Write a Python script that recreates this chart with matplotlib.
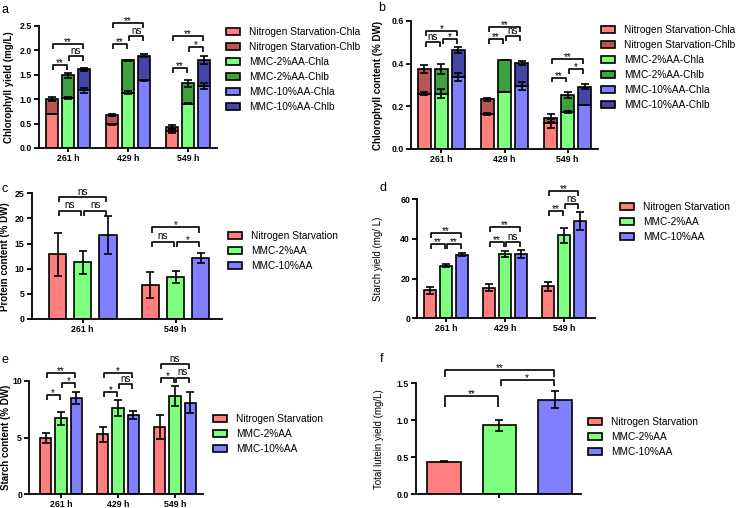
import matplotlib
matplotlib.use('Agg')
import matplotlib.pyplot as plt

plt.rcParams['font.family'] = ['Liberation Sans', 'DejaVu Sans']

# colours
c_ns_a, c_ns_b = '#FF7F7F', '#B85555'
c_m2_a, c_m2_b = '#7FFF7F', '#3FA040'
c_m10_a, c_m10_b = '#7F7FFF', '#4545A5'

times3 = ['261 h', '429 h', '549 h']
times2 = ['261 h', '549 h']
groups = ['Nitrogen Starvation', 'MMC-2%AA', 'MMC-10%AA']

# a: chlorophyll yield (mg/L), Chla and Chlb stacked
a_chla = [[0.70, 0.49, 0.35], [1.03, 1.13, 0.90], [1.18, 1.38, 1.27]]
a_chla_err = [[0.005, 0.01, 0.04], [0.02, 0.03, 0.01], [0.05, 0.02, 0.06]]
a_chlb = [[0.30, 0.19, 0.08], [0.46, 0.66, 0.42], [0.43, 0.51, 0.53]]
a_chlb_err = [[0.04, 0.02, 0.05], [0.05, 0.01, 0.07], [0.03, 0.04, 0.09]]

# b: chlorophyll content (% DW)
b_chla = [[0.26, 0.165, 0.12], [0.26, 0.265, 0.172], [0.338, 0.295, 0.208]]
b_chla_err = [[0.005, 0.005, 0.02], [0.02, 0.0, 0.004], [0.02, 0.02, 0.0]]
b_chlb = [[0.115, 0.068, 0.025], [0.115, 0.15, 0.081], [0.127, 0.108, 0.084]]
b_chlb_err = [[0.018, 0.008, 0.018], [0.022, 0.0, 0.012], [0.013, 0.011, 0.012]]

# c: protein content (% DW)
c_vals = [[12.9, 6.8], [11.3, 8.4], [16.7, 12.2]]
c_err = [[4.3, 2.6], [2.3, 1.2], [3.7, 1.0]]

# d: starch yield (mg/L)
d_vals = [[14.2, 15.5, 16.2], [26.5, 32.3, 41.8], [32.0, 32.5, 49.2]]
d_err = [[1.8, 1.8, 2.2], [0.7, 1.5, 3.8], [0.8, 2.0, 4.5]]

# e: starch content (% DW)
e_vals = [[5.0, 5.3, 5.95], [6.7, 7.6, 8.65], [8.5, 7.0, 8.1]]
e_err = [[0.45, 0.65, 1.05], [0.55, 0.7, 0.9], [0.55, 0.35, 0.9]]

# f: total lutein yield (mg/L)
f_vals = [0.44, 0.93, 1.28]
f_err = [0.005, 0.08, 0.11]

# significance brackets: (time index, bar i, bar j, height, label)
a_sig = [(0, 0, 1, 1.70, '**'), (0, 1, 2, 1.88, 'ns'), (0, 0, 2, 2.12, '**'),
         (1, 0, 1, 2.12, '**'), (1, 1, 2, 2.29, 'ns'), (1, 0, 2, 2.56, '**'),
         (2, 0, 1, 1.64, '**'), (2, 1, 2, 2.07, '*'), (2, 0, 2, 2.29, '**')]
b_sig = [(0, 0, 1, 0.50, 'ns'), (0, 1, 2, 0.515, '*'), (0, 0, 2, 0.554, '*'),
         (1, 0, 1, 0.515, '**'), (1, 1, 2, 0.53, 'ns'), (1, 0, 2, 0.57, '**'),
         (2, 0, 1, 0.335, '**'), (2, 1, 2, 0.374, '*'), (2, 0, 2, 0.42, '**')]
c_sig = [(0, 0, 1, 21.5, 'ns'), (0, 1, 2, 21.5, 'ns'), (0, 0, 2, 24.2, 'ns'),
         (1, 0, 1, 15.4, 'ns'), (1, 1, 2, 15.4, '*'), (1, 0, 2, 18.2, '*')]
d_sig = [(0, 0, 1, 37.3, '**'), (0, 1, 2, 37.3, '**'), (0, 0, 2, 42.9, '**'),
         (1, 0, 1, 38.3, '**'), (1, 1, 2, 38.3, 'ns'), (1, 0, 2, 46.2, '**'),
         (2, 0, 1, 54.1, '**'), (2, 1, 2, 57.6, 'ns'), (2, 0, 2, 64.2, '**')]
e_sig = [(0, 0, 1, 8.8, '*'), (0, 1, 2, 9.8, '*'), (0, 0, 2, 10.68, '**'),
         (1, 0, 1, 9.0, '*'), (1, 1, 2, 9.7, 'ns'), (1, 0, 2, 10.74, '*'),
         (2, 0, 1, 10.3, '*'), (2, 1, 2, 10.3, 'ns'), (2, 0, 2, 11.47, 'ns')]
# f: (bar i, bar j, height, tick length, label)
f_sig = [(0, 1, 1.33, 0.15, '**'), (1, 2, 1.545, 0.08, '*'), (0, 2, 1.68, 0.10, '**')]

W, H = 738, 508
fig = plt.figure(figsize=(W / 100, H / 100), dpi=100)
LW = 1.3


def px_axes(left, top, right, bottom):
    ax = fig.add_axes([left / W, 1 - bottom / H, (right - left) / W, (bottom - top) / H])
    ax._px = (left, right)
    return ax


def style(ax, ylabel, yticks, fmt, label_x, bold_label=True):
    for s in ['top', 'right']:
        ax.spines[s].set_visible(False)
    for s in ['left', 'bottom']:
        ax.spines[s].set_linewidth(LW)
    ax.tick_params(width=LW, length=3.5, labelsize=6.3, pad=1.5)
    ax.tick_params(axis='x', length=3, pad=1)
    ax.set_yticks(yticks)
    ax.set_yticklabels([fmt % t for t in yticks], fontweight='bold')
    ax.set_ylabel(ylabel, fontsize=7, fontweight='bold' if bold_label else 'normal')
    left, right = ax._px
    ax.yaxis.set_label_coords((label_x - left) / (right - left), 0.5)


def bracket(ax, x1, x2, y, tick, label):
    x1 += 0.02
    x2 -= 0.02
    ax.plot([x1, x1, x2, x2], [y - tick, y, y, y - tick], color='black', lw=1.2,
            clip_on=False, solid_capstyle='butt')
    off = -2.2 if '*' in label else 0.3
    ax.annotate(label, xy=((x1 + x2) / 2, y), xytext=(0, off), textcoords='offset points',
                ha='center', va='bottom', fontsize=7, annotation_clip=False)


def legend(ax, handles, labels, x, y):
    ax.legend(handles, labels, loc='upper left', bbox_to_anchor=(x / W, 1 - y / H),
              bbox_transform=fig.transFigure, frameon=False, borderpad=0, borderaxespad=0,
              fontsize=7.3, handlelength=1.4, handleheight=0.72, handletextpad=0.85,
              labelspacing=0.5)


def err(ax, x, y, e):
    ax.errorbar(x, y, yerr=e, fmt='none', ecolor='black', elinewidth=1.2, capsize=3,
                capthick=1.2, zorder=4)


def stacked(ax, chla, chla_err, chlb, chlb_err, cols, sig, tick):
    offs = [-0.27, 0, 0.27]
    handles = []
    for g in range(3):
        xs = [t + offs[g] for t in range(3)]
        tops = [chla[g][t] + chlb[g][t] for t in range(3)]
        ba = ax.bar(xs, chla[g], 0.2, color=cols[g][0], edgecolor='black', lw=1.2, zorder=2)
        bb = ax.bar(xs, chlb[g], 0.2, bottom=chla[g], color=cols[g][1], edgecolor='black',
                    lw=1.2, zorder=2)
        err(ax, xs, chla[g], chla_err[g])
        err(ax, xs, tops, chlb_err[g])
        handles += [ba, bb]
    for t, i, j, y, lab in sig:
        bracket(ax, t + offs[i], t + offs[j], y, tick, lab)
    ax.set_xticks(range(3))
    ax.set_xticklabels(times3, fontweight='bold')
    return handles


def grouped(ax, vals, errs, times, sig, tick, width=0.2):
    offs = [-0.27, 0, 0.27]
    cols = [c_ns_a, c_m2_a, c_m10_a]
    handles = []
    n = len(times)
    for g in range(3):
        xs = [t + offs[g] for t in range(n)]
        b = ax.bar(xs, vals[g], width, color=cols[g], edgecolor='black', lw=1.2, zorder=2)
        err(ax, xs, vals[g], errs[g])
        handles.append(b)
    for t, i, j, y, lab in sig:
        bracket(ax, t + offs[i], t + offs[j], y, tick, lab)
    ax.set_xticks(range(n))
    ax.set_xticklabels(times, fontweight='bold')
    return handles


stack_cols = [(c_ns_a, c_ns_b), (c_m2_a, c_m2_b), (c_m10_a, c_m10_b)]
stack_labels = [g + s for g in groups for s in ['-Chla', '-Chlb']]

# a
ax = px_axes(39, 25.7, 217, 148)
h = stacked(ax, a_chla, a_chla_err, a_chlb, a_chlb_err, stack_cols, a_sig, 0.1)
ax.set_xlim(-0.48, 2.48)
ax.set_ylim(0, 2.5)
style(ax, 'Chlorophyll yield (mg/L)', [0, 0.5, 1.0, 1.5, 2.0, 2.5], '%.1f', 14)
legend(ax, h, stack_labels, 226, 27)

# b
ax = px_axes(411, 21, 598, 149)
h = stacked(ax, b_chla, b_chla_err, b_chlb, b_chlb_err, stack_cols, b_sig, 0.023)
ax.set_xlim(-0.48, 2.48)
ax.set_ylim(0, 0.6)
style(ax, 'Chlorophyll content (% DW)', [0, 0.2, 0.4, 0.6], '%.1f', 383)
legend(ax, h, stack_labels, 601, 25)

# c
ax = px_axes(31.5, 193.3, 222, 319)
h = grouped(ax, c_vals, c_err, times2, c_sig, 1.0, width=0.19)
ax.set_xlim(-0.55, 1.5)
ax.set_ylim(0, 25)
style(ax, 'Protein content (% DW)', [0, 5, 10, 15, 20, 25], '%d', 9.5)
legend(ax, h, groups, 228, 231)

# d
ax = px_axes(417, 199.3, 595, 318.3)
h = grouped(ax, d_vals, d_err, times3, d_sig, 2.5)
ax.set_xlim(-0.49, 2.53)
ax.set_ylim(0, 60)
style(ax, 'Starch yield (mg/ L)', [0, 20, 40, 60], '%d', 383, bold_label=False)
legend(ax, h, groups, 620, 202)

# e
ax = px_axes(29, 381, 203, 494.3)
h = grouped(ax, e_vals, e_err, times3, e_sig, 0.45)
ax.set_xlim(-0.56, 2.49)
ax.set_ylim(0, 10)
style(ax, 'Starch content (% DW)', [0, 5, 10], '%d', 11)
legend(ax, h, groups, 213, 414)

# f
ax = px_axes(415.7, 383.3, 581, 494.3)
cols = [c_ns_a, c_m2_a, c_m10_a]
h = []
for i in range(3):
    h.append(ax.bar(i, f_vals[i], 0.6, color=cols[i], edgecolor='black', lw=1.2, zorder=2))
err(ax, range(3), f_vals, f_err)
for i, j, y, tk, lab in f_sig:
    bracket(ax, i, j, y, tk, lab)
ax.set_xticks([1])
ax.set_xticklabels([''])
ax.set_xlim(-0.51, 2.47)
ax.set_ylim(0, 1.5)
style(ax, 'Total lutein yield (mg/L)', [0, 0.5, 1.0, 1.5], '%.1f', 384.5, bold_label=False)
legend(ax, h, groups, 588, 417)

for lab, x, y in [('a', 2, 10), ('b', 378, 8), ('c', 2, 189), ('d', 379, 188),
                  ('e', 2, 360), ('f', 380, 359)]:
    fig.text(x / W, 1 - y / H, lab, fontsize=9, va='center', ha='left')

fig.savefig('out.png', dpi=100)
